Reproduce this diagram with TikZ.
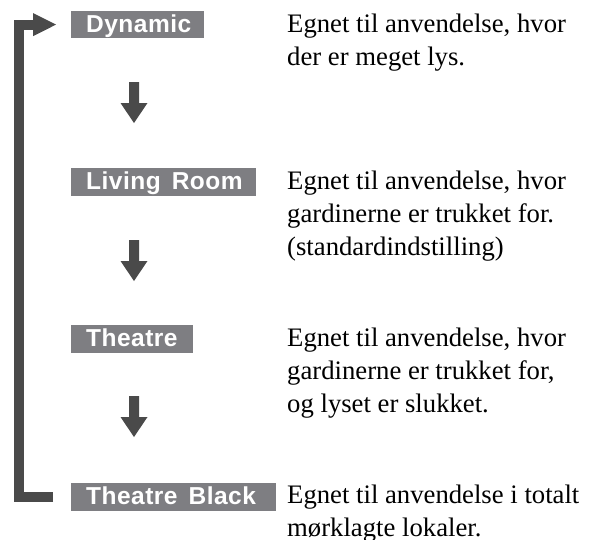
\documentclass[tikz,border=0pt]{standalone}
\usepackage{fontspec}
\setmainfont{Liberation Serif}
\setsansfont{Liberation Sans}
\definecolor{boxgray}{HTML}{7E7E82}
\definecolor{arrowgray}{HTML}{4A4A4A}
\tikzset{
  x=1pt, y=-1pt,
  modebox/.style={anchor=west, fill=boxgray, text=white, inner xsep=15pt, inner ysep=0pt,
    text height=21.5pt, text depth=6pt,
    font=\fontsize{24.5}{24.5}\sffamily\bfseries\addfontfeatures{LetterSpace=2}},
  desc/.style={anchor=base west, inner sep=0pt, align=left, font=\fontsize{26.7}{33}\rmfamily},
  blockarrow/.style={fill=arrowgray, draw=none},
  bracket/.style={draw=arrowgray, line width=10pt, line join=miter, line cap=butt}
}
\newcommand{\downarrowshape}[1]{%
  \fill[blockarrow] ($(#1)+(-5,-21)$) -- ($(#1)+(5,-21)$) -- ($(#1)+(5,0)$) -- ($(#1)+(13.5,0)$)
    -- ($(#1)+(0,20)$) -- ($(#1)+(-13.5,0)$) -- ($(#1)+(-5,0)$) -- cycle;}
\newcommand{\boxtext}[2]{\makebox[#1][l]{#2}}
\usetikzlibrary{calc}
\begin{document}
\begin{tikzpicture}
\useasboundingbox (0,0) rectangle (592,539);
% mode boxes
\node[modebox] (dyn) at (71,24.5) {\boxtext{103pt}{Dynamic}};
\node[modebox] (liv) at (71,182) {\boxtext{155pt}{Living\hspace{0.45em}Room}};
\node[modebox] (the) at (71,339) {\boxtext{92pt}{Theatre}};
\node[modebox] (thb) at (71,497) {\boxtext{175pt}{Theatre\hspace{0.45em}Black}};
% descriptions (anchor = baseline of last line)
\node[desc] (d1) at (287,65) {Egnet til anvendelse, hvor\\der er meget lys.};
\node[desc] (d2) at (287,255.5) {Egnet til anvendelse, hvor\\gardinerne er trukket for.\\(standardindstilling)};
\node[desc] (d3) at (287,412.5) {Egnet til anvendelse, hvor\\gardinerne er trukket for,\\og lyset er slukket.};
\node[desc] (d4) at (287,536.5) {Egnet til anvendelse i totalt\\mørklagte lokaler.};
% down arrows
\coordinate (a1) at (134,103);
\coordinate (a2) at (134,261);
\coordinate (a3) at (134,417);
\downarrowshape{a1}
\downarrowshape{a2}
\downarrowshape{a3}
% return bracket
\coordinate (bstart) at (53,496.5);
\coordinate (bcorner) at (19,24.7);
\coordinate (bstem) at (33.5,24.7);
\draw[bracket] (bstart) -| (bcorner) -- (bstem);
\fill[blockarrow] (33,13) -- (56,24.6) -- (33,36.2) -- cycle;
\end{tikzpicture}
\end{document}
